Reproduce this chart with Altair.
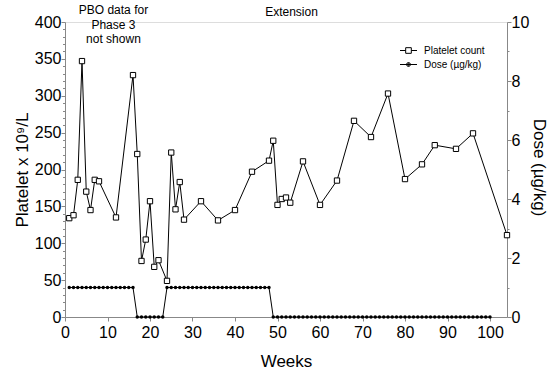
import altair as alt
import pandas as pd

# Platelet count (x10^9/L) by week
weeks_plt = [1, 2, 3, 4, 5, 6, 7, 8, 12, 16, 17, 18, 19, 20, 21, 22, 24, 25, 26, 27, 28,
             32, 36, 40, 44, 48, 49, 50, 51, 52, 53, 56, 60, 64, 68, 72, 76, 80, 84, 87,
             92, 96, 104]
platelet = [134, 138, 186, 347, 170, 145, 186, 184, 135, 328, 221, 76, 105, 157, 68, 77,
            49, 223, 146, 183, 132, 157, 131, 145, 197, 212, 239, 152, 160, 162, 155, 211,
            152, 185, 266, 244, 303, 187, 207, 233, 228, 249, 111]

# Dose (ug/kg) by week, weeks 1..100
dose_weeks = list(range(1, 101))
dose = [1, 1, 1, 1, 1,  1, 1, 1, 1, 1,  1, 1, 1, 1, 1,  1,            # weeks 1-16
        0, 0, 0, 0, 0,  0, 0,                                         # weeks 17-23
        1, 1, 1, 1, 1,  1, 1, 1, 1, 1,  1, 1, 1, 1, 1,                # weeks 24-38
        1, 1, 1, 1, 1,  1, 1, 1, 1, 1,                                # weeks 39-48
        0, 0, 0, 0, 0,  0, 0, 0, 0, 0,  0, 0, 0, 0, 0,  0, 0, 0, 0, 0,  # weeks 49-68
        0, 0, 0, 0, 0,  0, 0, 0, 0, 0,  0, 0, 0, 0, 0,  0, 0, 0, 0, 0,  # weeks 69-88
        0, 0, 0, 0, 0,  0, 0, 0, 0, 0,  0, 0]                         # weeks 89-100

legend_labels = ["Platelet count", "Dose (µg/kg)"]
x_ticks = list(range(0, 101, 5))
y_ticks = list(range(0, 401, 10))
y2_ticks = list(range(0, 11, 1))

FONT = "Liberation Sans"

df_plt = pd.DataFrame({"week": weeks_plt, "platelet": platelet})
df_dose = pd.DataFrame({"week": dose_weeks, "dose": dose})
df_leg = pd.DataFrame({"series": legend_labels})

x_scale = alt.Scale(domain=[0, 104], nice=False, zero=False)
x_axis = alt.Axis(
    values=x_ticks,
    labelExpr="datum.value % 10 === 0 ? datum.label : ''",
    tickSize={"condition": {"test": "datum.value % 10 === 0", "value": 4}, "value": 2},
    labelFontSize=16, labelPadding=3, labelFlush=False, labelOverlap=False,
    title="Weeks", titleFontSize=17, titleFontWeight="normal", titlePadding=13,
    grid=False,
)

y_scale = alt.Scale(domain=[0, 400], nice=False)
y_axis = alt.Axis(
    values=y_ticks,
    labelExpr="datum.value % 50 === 0 ? datum.label : ''",
    tickSize={"condition": {"test": "datum.value % 50 === 0", "value": 4}, "value": 2.5},
    labelFontSize=16, labelPadding=0, labelFlush=False, labelOverlap=False,
    title="Platelet x 10⁹/L", titleFontSize=17, titleFontWeight="normal", titlePadding=3,
    orient="left", grid=False,
)

y2_axis = alt.Axis(
    values=y2_ticks,
    labelExpr="datum.value % 2 === 0 ? datum.label : ''",
    tickSize={"condition": {"test": "datum.value % 2 === 0", "value": 4}, "value": 2},
    labelFontSize=16, labelPadding=0, labelFlush=False, labelOverlap=False,
    title="Dose (µg/kg)", titleFontSize=17, titleFontWeight="normal",
    titleX=31, titleY=145, titleAngle=90, titleAlign="center", titleBaseline="middle",
    orient="right", grid=False,
)

plt_line = alt.Chart(df_plt).mark_line(color="black", strokeWidth=1).encode(
    x=alt.X("week:Q", scale=x_scale, axis=x_axis),
    y=alt.Y("platelet:Q", scale=y_scale, axis=y_axis),
)
plt_pts = alt.Chart(df_plt).mark_point(
    shape="square", size=28, filled=True, fill="white", stroke="black", strokeWidth=1, opacity=1
).encode(
    x=alt.X("week:Q", scale=x_scale, axis=x_axis),
    y=alt.Y("platelet:Q", scale=y_scale, axis=y_axis),
)

path_plt = "M-1.5,0H-0.5M0.5,0H1.5M-0.5,-0.5H0.5V0.5H-0.5Z"
path_dose = ("M-1.5,0H1.5"
             "M-0.35,0A0.35,0.35 0 1,0 0.35,0A0.35,0.35 0 1,0 -0.35,0"
             "M-0.2,0A0.2,0.2 0 1,0 0.2,0A0.2,0.2 0 1,0 -0.2,0"
             "M-0.06,0A0.06,0.06 0 1,0 0.06,0A0.06,0.06 0 1,0 -0.06,0")

legend_layer = alt.Chart(df_leg).mark_point(
    filled=False, color="black", strokeWidth=1, size=128, opacity=1, clip=False
).encode(
    x=alt.value(-2000),
    y=alt.value(-2000),
    shape=alt.Shape(
        "series:N",
        scale=alt.Scale(domain=legend_labels, range=[path_plt, path_dose]),
        legend=alt.Legend(title=None, orient="none", legendX=337, legendY=22,
                          labelFontSize=10, labelFont=FONT, labelOffset=9, labelColor="black",
                          rowPadding=2, symbolSize=128, symbolStrokeWidth=1,
                          symbolStrokeColor="black", symbolOpacity=1, padding=0),
    ),
)

ann1 = alt.Chart(df_leg).transform_filter("datum.series === 'Platelet count'").mark_text(
    text=["PBO data for", "Phase 3", "not shown"], font=FONT, fontSize=12, color="black",
    align="center", baseline="top", lineHeight=14.5, clip=False
).encode(x=alt.datum(11.4), y=alt.value(-17))

ann2 = alt.Chart(df_leg).transform_filter("datum.series === 'Platelet count'").mark_text(
    text="Extension", font=FONT, fontSize=12, color="black",
    align="center", baseline="top", clip=False
).encode(x=alt.datum(53.3), y=alt.value(-15))

left = alt.layer(plt_line, plt_pts, legend_layer, ann1, ann2)

dose_line = alt.Chart(df_dose).mark_line(
    color="black", strokeWidth=1, point=alt.OverlayMarkDef(filled=True, color="black", size=12)
).encode(
    x=alt.X("week:Q", scale=x_scale, axis=x_axis),
    y=alt.Y("dose:Q", scale=alt.Scale(domain=[0, 10], nice=False), axis=y2_axis),
)

chart = alt.layer(left, dose_line).resolve_scale(y="independent").properties(
    width=442, height=295,
    autosize=alt.AutoSizeParams(type="none"),
    padding={"left": 65, "top": 22, "right": 51, "bottom": 58},
).configure_view(stroke=None).configure_axis(
    domainColor="black", domainWidth=1.5, tickColor="black", tickWidth=1,
    labelColor="black", titleColor="black", labelFont=FONT, titleFont=FONT,
).configure(background="white")

chart.save("out.html", embed_options={"renderer": "svg", "actions": False})
